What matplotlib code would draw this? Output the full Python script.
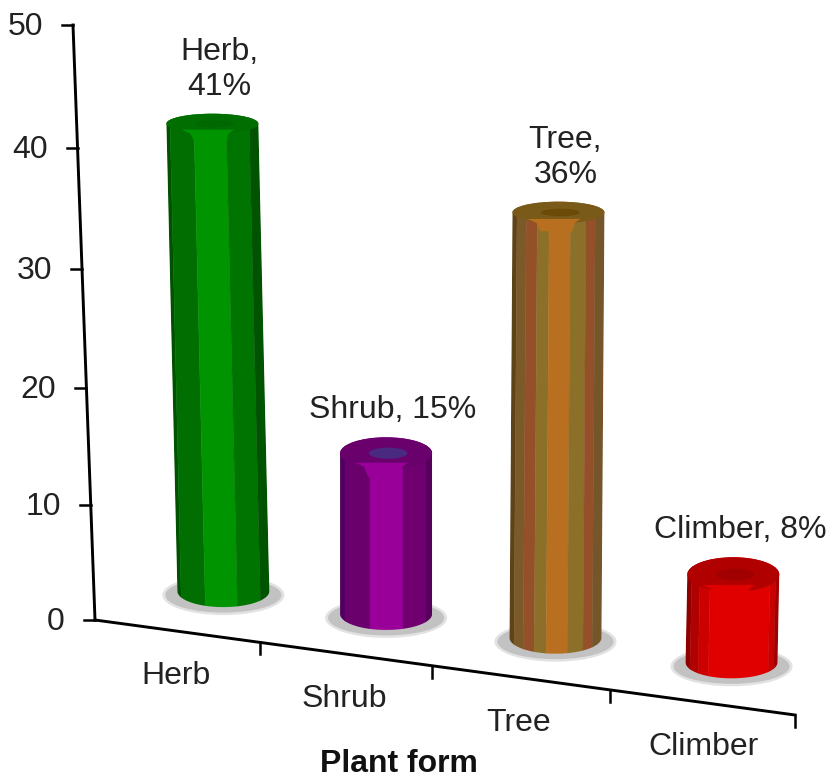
from __future__ import annotations

import numpy as np
import matplotlib
matplotlib.use("Agg")
import matplotlib.pyplot as plt
from matplotlib.patches import Ellipse, PathPatch, Polygon
from matplotlib.path import Path

plt.rcParams["font.family"] = ["Liberation Sans", "DejaVu Sans"]

CATEGORIES = ["Herb", "Shrub", "Tree", "Climber"]
BAR_VALUES = [41.0, 14.1, 37.3, 7.7]
BAR_LABELS = ["Herb,\n41%", "Shrub, 15%", "Tree,\n36%", "Climber, 8%"]
Y_TICKS = [0, 10, 20, 30, 40, 50]
X_TITLE = "Plant form"

# how much each cylinder leans going down, from the perspective of the original
BAR_LEAN = [0.0235, 0.0, -0.007, -0.02]

# (left fraction, right fraction, colour) across each cylinder
BANDS = [
    [(0, .04, "#005200"), (.04, .30, "#006e00"), (.30, .65, "#009400"),
     (.65, .90, "#007400"), (.90, 1, "#005400")],
    [(0, .05, "#4e0060"), (.05, .33, "#6a006c"), (.33, .68, "#990099"),
     (.68, .93, "#700070"), (.93, 1, "#55005a")],
    [(0, .05, "#5e4218"), (.05, .15, "#7a5a28"), (.15, .27, "#945028"),
     (.27, .40, "#8c6f28"), (.40, .63, "#b86f20"), (.63, .80, "#8c6f28"),
     (.80, .90, "#945028"), (.90, 1, "#75552a")],
    [(0, .05, "#8e0000"), (.05, .14, "#b00000"), (.14, .25, "#cc0000"),
     (.25, .90, "#e00000"), (.90, .96, "#c80000"), (.96, 1, "#a00000")],
]
CAP_COLORS = ["#006e00", "#6a006c", "#7a5a18", "#b00000"]
CAP_INNER = ["#006800", "#4a2a80", "#6b4a08", "#a20000"]
FLARE_COLORS = ["#009400", "#990099", "#b86f20", "#e00000"]

BAR_WIDTH = 92
BAR_SCALE = 11.4
BASE_RY = 16
TEXT_COLOR = "#222222"


def axis_x(t: float) -> tuple[float, float]:
    # position along the receding category axis, t runs 0..4
    x = 95 + 161.67 * t + 3.33 * t ** 2
    return x, 620 + (x - 95) * 95 / 700


def axis_y(v: float) -> tuple[float, float]:
    y = 620 - 11.4 * v - 0.01 * v ** 2
    return 95 - 22 * (620 - y) / 595, y


def draw_axes(ax) -> None:
    ys = np.linspace(0, 50, 30)
    ax.plot(*zip(*[axis_y(v) for v in ys]), color="black", lw=2.1, zorder=2)
    ts = np.linspace(0, len(CATEGORIES), 30)
    ax.plot(*zip(*[axis_x(t) for t in ts]), color="black", lw=2.1, zorder=2)

    for v in Y_TICKS:
        x, y = axis_y(v)
        ax.plot([x - 11, x], [y, y], color="black", lw=1.8, zorder=2)
        ax.text(x - 30, y + 2, str(v), fontsize=23, ha="right", va="center",
                color=TEXT_COLOR)

    for i in range(len(CATEGORIES) + 1):
        x, y = axis_x(i)
        if i > 0:
            ax.plot([x, x], [y, y + 12], color="black", lw=1.8, zorder=2)

    for i, name in enumerate(CATEGORIES):
        x, y = axis_x(i + 0.5)
        nudge = 2 if name == "Climber" else -1
        ax.text(x + nudge, y + 45, name, fontsize=23, ha="center", va="center",
                color=TEXT_COLOR)

    ax.text(399, 764, X_TITLE, fontsize=23, fontweight="bold", ha="center",
            va="center", color="#111111")


def draw_bar(ax, i: int) -> None:
    t = i + 0.5
    ax_x, ax_y = axis_x(t)
    bx = ax_x + 49.5 - 5.6 * t
    by = ax_y - 40
    value = BAR_VALUES[i]
    height = value * BAR_SCALE
    tx = bx - BAR_LEAN[i] * height
    ty = by - height
    top_ry = 19 - 0.22 * value
    half = BAR_WIDTH / 2

    # shadow under the foot
    ax.add_patch(Ellipse((bx, by + 4), 122, 40, color="#e2e2e2", lw=0, zorder=3))
    ax.add_patch(Ellipse((bx, by + 4), 116, 35, color="#c2c2c2", lw=0, zorder=3))

    ang = np.linspace(np.pi, 0, 40)
    top_arc = np.column_stack([tx + half * np.cos(ang), ty - top_ry * np.sin(ang)])
    ang2 = np.linspace(0, np.pi, 40)
    low_arc = np.column_stack([bx + half * np.cos(ang2), by + BASE_RY * np.sin(ang2)])
    body = np.vstack([top_arc, low_arc, top_arc[:1]])
    body_path = Path(body, closed=True)
    clip = PathPatch(body_path, transform=ax.transData, fc="none", ec="none")
    ax.add_patch(clip)

    y0, y1 = ty - top_ry - 2, by + BASE_RY + 2
    for f0, f1, color in BANDS[i]:
        def edge(f, y):
            frac = (y - ty) / (by - ty)
            return tx + (bx - tx) * frac - half + f * BAR_WIDTH
        band = Polygon(
            [(edge(f0, y0), y0), (edge(f1, y0), y0),
             (edge(f1, y1), y1), (edge(f0, y1), y1)],
            closed=True, fc=color, ec=color, lw=0.3, zorder=4,
        )
        ax.add_patch(band)
        band.set_clip_path(clip)

    # cap, with the lit stripe flaring out just under it
    ax.add_patch(Ellipse((tx, ty), BAR_WIDTH, top_ry * 2, color=CAP_COLORS[i],
                         lw=0, zorder=5))
    ax.add_patch(Ellipse((tx + 2, ty), BAR_WIDTH * 0.42, top_ry * 0.7,
                         color=CAP_INNER[i], lw=0, zorder=5))
    fl = top_ry * 0.6
    ax.add_patch(Polygon(
        [(tx - 31, ty + fl), (tx + 22, ty + fl), (tx + 16, ty + fl + 4),
         (tx + 14, ty + top_ry + 8), (tx - 18, ty + top_ry + 8), (tx - 22, ty + fl + 4)],
        closed=True, fc=FLARE_COLORS[i], ec="none", zorder=6,
    ))

    ax.text(tx + 7, ty - top_ry - 12, BAR_LABELS[i], fontsize=23, ha="center",
            va="bottom", linespacing=1.22, color=TEXT_COLOR, zorder=7)


def main() -> None:
    fig = plt.figure(figsize=(8.35, 7.83), dpi=100)
    ax = fig.add_axes([0, 0, 1, 1])
    ax.set_xlim(0, 835)
    ax.set_ylim(783, 0)
    ax.axis("off")

    draw_axes(ax)
    for i in range(len(CATEGORIES)):
        draw_bar(ax, i)

    fig.savefig("out.png", dpi=100)
    plt.close(fig)


if __name__ == "__main__":
    main()
